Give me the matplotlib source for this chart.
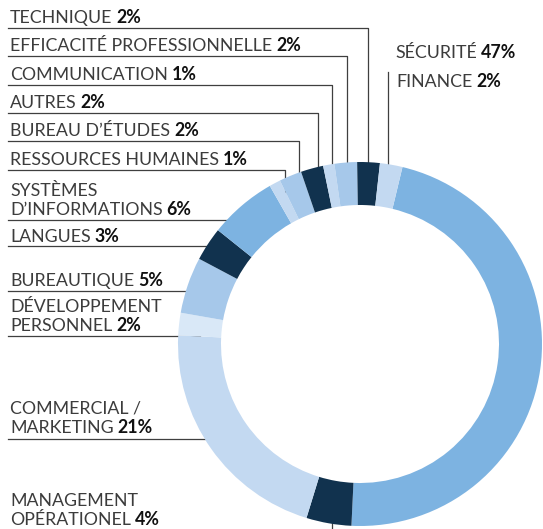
import matplotlib
matplotlib.use("Agg")
import matplotlib.pyplot as plt
import numpy as np

W, H = 543, 529

# slices, clockwise from just right of 12 o'clock
categories = ["SÉCURITÉ", "MANAGEMENT\nOPÉRATIONEL", "COMMERCIAL /\nMARKETING",
              "DÉVELOPPEMENT\nPERSONNEL", "BUREAUTIQUE", "LANGUES",
              "SYSTÈMES\nD’INFORMATIONS", "RESSOURCES HUMAINES", "BUREAU D’ÉTUDES",
              "AUTRES", "COMMUNICATION", "EFFICACITÉ PROFESSIONNELLE",
              "TECHNIQUE", "FINANCE"]
values = [47, 4, 21, 2, 5, 3, 6, 1, 2, 2, 1, 2, 2, 2]

navy, mid, light, pale, sky = "#11324e", "#a6c8ea", "#c3d9f1", "#d9e8f7", "#7db3e1"
colors = [sky, navy, light, pale, mid, navy, sky, light, mid, navy, light, mid, navy, light]

# label layout (pixels from top): baseline of last text line, underline y, leader kind
label_layout = {
    "TECHNIQUE": (23, 28, "v"),
    "EFFICACITÉ PROFESSIONNELLE": (51, 56, "v"),
    "COMMUNICATION": (80, 85, "v"),
    "AUTRES": (108, 113, "v"),
    "BUREAU D’ÉTUDES": (136, 141, "v"),
    "RESSOURCES HUMAINES": (165, 170, "v"),
    "SYSTÈMES\nD’INFORMATIONS": (215, 220, "h"),
    "LANGUES": (242, 246, "h"),
    "BUREAUTIQUE": (286, 291, "h"),
    "DÉVELOPPEMENT\nPERSONNEL": (331, 336, "h"),
    "COMMERCIAL /\nMARKETING": (433, 439, "h"),
    "MANAGEMENT\nOPÉRATIONEL": (525, 531, "v"),
}

FONT = "Lato"
FS = 12.8
TXT = "#3c3c3c"
LINE = "#3f3f3f"

fig = plt.figure(figsize=(W / 100, H / 100), dpi=100)
ax = fig.add_axes([0, 0, 1, 1])

cx, cy = 360, H - 344
R, ring = 182, 43
wedges, _ = ax.pie(values, colors=colors, startangle=76.5, counterclock=False,
                   radius=R, center=(cx, cy),
                   wedgeprops=dict(width=ring, linewidth=0, zorder=2))
ax.set_xlim(0, W)
ax.set_ylim(0, H)
ax.axis("off")

Rm = R - ring / 2
renderer = fig.canvas.get_renderer()


def Y(y):
    return H - y


def label(x, base, text, pct, ha="left"):
    lines = text.split("\n")
    n = len(lines)
    if ha == "left":
        for i, ln in enumerate(lines):
            t = ax.text(x, Y(base - (n - 1 - i) * 19), ln, fontsize=FS, family=FONT,
                        color=TXT, ha="left", va="baseline")
        bb = t.get_window_extent(renderer).transformed(ax.transData.inverted())
        ax.text(bb.x1 + 4, Y(base), pct, fontsize=FS, family=FONT, weight="bold",
                color="#111111", ha="left", va="baseline")
    else:
        t = ax.text(x, Y(base), pct, fontsize=FS, family=FONT, weight="bold",
                    color="#111111", ha="right", va="baseline")
        bb = t.get_window_extent(renderer).transformed(ax.transData.inverted())
        ax.text(bb.x0 - 4, Y(base), text, fontsize=FS, family=FONT,
                color=TXT, ha="right", va="baseline")


for w, cat, v in zip(wedges, categories, values):
    mid_a = np.deg2rad((w.theta1 + w.theta2) / 2)
    mx, my = cx + Rm * np.cos(mid_a), cy + Rm * np.sin(mid_a)
    pct = f"{v}%"
    if cat in label_layout:
        base, uy, kind = label_layout[cat]
        label(10, base, cat, pct)
        if kind == "v":
            ax.plot([8, mx, mx], [Y(uy), Y(uy), my], color=LINE, lw=0.9, zorder=0.5)
        else:
            dy = Y(uy) - cy
            xe = cx - np.sqrt(Rm ** 2 - dy ** 2)
            ax.plot([8, xe], [Y(uy), Y(uy)], color=LINE, lw=0.9, zorder=0.5)
    elif cat == "SÉCURITÉ":
        label(516, 58, cat, pct, ha="right")
        xl = 521
        ax.plot([xl, xl], [Y(45), cy + np.sqrt(Rm ** 2 - (xl - cx) ** 2)],
                color=LINE, lw=0.9, zorder=0.5)
    elif cat == "FINANCE":
        label(396, 87, cat, pct)
        ax.plot([mx, mx], [Y(72), my], color=LINE, lw=0.9, zorder=0.5)

fig.savefig("out.png", dpi=100)
